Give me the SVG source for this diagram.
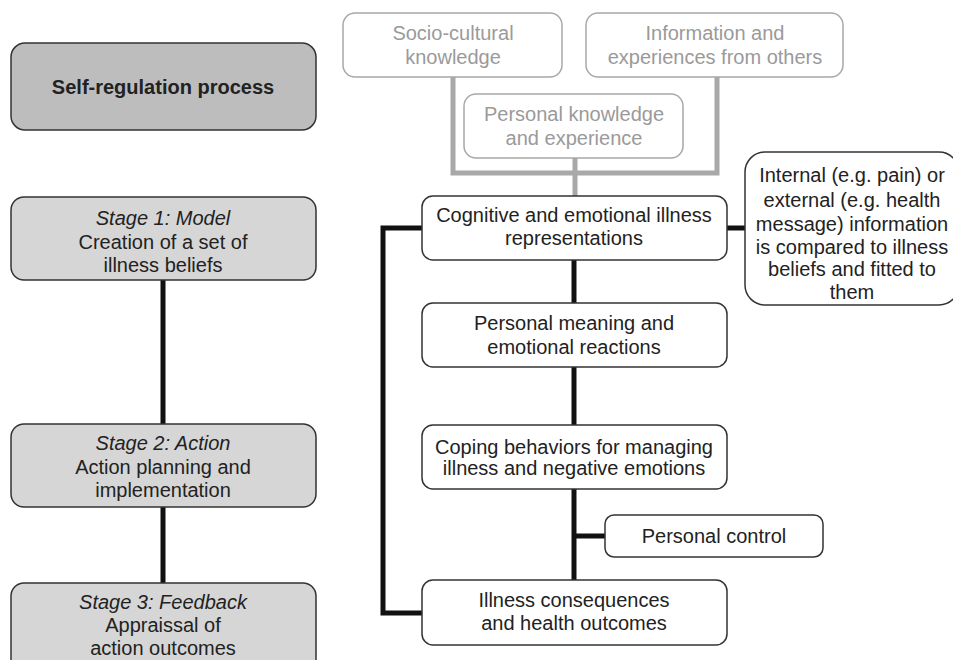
<svg xmlns="http://www.w3.org/2000/svg" width="953" height="660" viewBox="0 0 953 660">
<style>
text{font-family:"Liberation Sans",Arial,sans-serif;font-size:20px;fill:#222;text-anchor:middle}
.g text,text.g{fill:#9a9a9a}
.stage{fill:#d6d6d6;stroke:#333;stroke-width:1.5}
.node{fill:#fff;stroke:#333;stroke-width:1.5}
.gnode{fill:#fff;stroke:#a8a8a8;stroke-width:1.5}
.it{font-style:italic}
.c{fill:none;stroke:#111;stroke-width:5}
.cg{fill:none;stroke:#a8a8a8;stroke-width:5}
</style>
<g id="connectors">
<line class="c" x1="163" y1="280" x2="163" y2="424"/>
<line class="c" x1="163" y1="507" x2="163" y2="583"/>
<polyline class="cg" points="453,77 453,173 717,173 717,77"/>
<line class="cg" x1="575" y1="158" x2="575" y2="196"/>
<line class="c" x1="574" y1="260" x2="574" y2="303"/>
<line class="c" x1="574" y1="367" x2="574" y2="425"/>
<line class="c" x1="574" y1="489" x2="574" y2="580"/>
<line class="c" x1="574" y1="536" x2="605" y2="536"/>
<line class="c" x1="727" y1="228" x2="745" y2="228"/>
<polyline class="c" points="422,228 383,228 383,613 422,613"/>
</g>
<g id="self-regulation">
<rect x="11" y="43" width="305" height="87" rx="14" fill="#bdbdbd" stroke="#333" stroke-width="1.5"/>
<text x="163" y="94" font-weight="bold">Self-regulation process</text>
</g>
<g id="stage1">
<rect class="stage" x="11" y="197" width="305" height="83" rx="13"/>
<text class="it" x="163" y="225">Stage 1: Model</text>
<text x="163" y="249">Creation of a set of</text>
<text x="163" y="272">illness beliefs</text>
</g>
<g id="stage2">
<rect class="stage" x="11" y="424" width="305" height="83" rx="13"/>
<text class="it" x="163" y="450">Stage 2: Action</text>
<text x="163" y="474">Action planning and</text>
<text x="163" y="497">implementation</text>
</g>
<g id="stage3">
<rect class="stage" x="11" y="583" width="305" height="100" rx="13"/>
<text class="it" x="163" y="609">Stage 3: Feedback</text>
<text x="163" y="632">Appraissal of</text>
<text x="163" y="655">action outcomes</text>
</g>
<g id="socio-cultural" class="g">
<rect class="gnode" x="343" y="13" width="219" height="64" rx="12"/>
<text x="453" y="40">Socio-cultural</text>
<text x="453" y="64">knowledge</text>
</g>
<g id="information-others" class="g">
<rect class="gnode" x="586" y="13" width="257" height="64" rx="12"/>
<text x="715" y="40">Information and</text>
<text x="715" y="64">experiences from others</text>
</g>
<g id="personal-knowledge" class="g">
<rect class="gnode" x="464" y="94" width="219" height="64" rx="12"/>
<text x="574" y="121">Personal knowledge</text>
<text x="574" y="145">and experience</text>
</g>
<g id="cognitive">
<rect class="node" x="422" y="196" width="305" height="64" rx="11"/>
<text x="574" y="222">Cognitive and emotional illness</text>
<text x="574" y="245">representations</text>
</g>
<g id="internal-external">
<rect class="node" x="745" y="152" width="214" height="153" rx="20"/>
<text x="852" y="182">Internal (e.g. pain) or</text>
<text x="852" y="207">external (e.g. health</text>
<text x="852" y="231">message) information</text>
<text x="852" y="254">is compared to illness</text>
<text x="852" y="276">beliefs and fitted to</text>
<text x="852" y="299">them</text>
</g>
<g id="personal-meaning">
<rect class="node" x="422" y="303" width="305" height="64" rx="11"/>
<text x="574" y="330">Personal meaning and</text>
<text x="574" y="354">emotional reactions</text>
</g>
<g id="coping">
<rect class="node" x="422" y="425" width="305" height="64" rx="11"/>
<text x="574" y="454">Coping behaviors for managing</text>
<text x="574" y="475">illness and negative emotions</text>
</g>
<g id="personal-control">
<rect class="node" x="605" y="515" width="218" height="42" rx="9"/>
<text x="714" y="543">Personal control</text>
</g>
<g id="illness-consequences">
<rect class="node" x="422" y="580" width="305" height="65" rx="11"/>
<text x="574" y="607">Illness consequences</text>
<text x="574" y="630">and health outcomes</text>
</g>
</svg>
